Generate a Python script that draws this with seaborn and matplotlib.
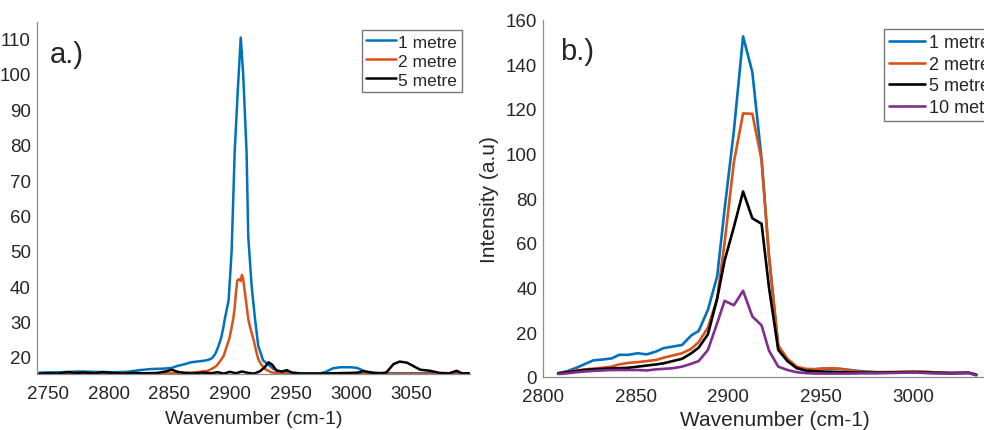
import seaborn as sns
import matplotlib.pyplot as plt
import pandas as pd

# ---- panel a.) : high resolution spectra ----
x_a_1m = [2743, 2760, 2775, 2790, 2805, 2815, 2826, 2835, 2845, 2852,
          2857, 2862, 2868, 2875, 2880, 2884, 2886, 2888, 2890, 2892.5,
          2894.5, 2896, 2899, 2901.5, 2904, 2906.5, 2909, 2911, 2913.8, 2915.2,
          2918, 2920.7, 2923.4, 2927.5, 2932, 2936, 2941, 2948, 2960, 2975,
          2979, 2985, 2991, 3000, 3005, 3011.5, 3020, 3040, 3060, 3080, 3097]
y_a_1m = [15.6, 15.7, 15.9, 15.8, 15.7, 15.8, 16.3, 16.6, 16.7, 16.9,
          17.5, 17.9, 18.5, 18.8, 19.0, 19.4, 19.9, 20.9, 22.5, 25.0,
          28, 31, 36, 50, 78, 95, 110.3, 100, 78, 54,
          40, 31, 23.2, 19.0, 17.8, 16.6, 16.0, 15.6, 15.4, 15.4,
          15.8, 16.8, 17.1, 17.1, 16.9, 15.9, 15.5, 15.4, 15.4, 15.4, 15.4]

x_a_2m = [2743, 2760, 2770, 2785, 2800, 2820, 2840, 2855, 2868, 2875,
          2882, 2886, 2889, 2892, 2895, 2897, 2899.5, 2901, 2902.8, 2904,
          2905, 2906.1, 2907.5, 2909, 2910, 2911, 2912.5, 2914, 2915.2, 2917,
          2919.4, 2921.5, 2923.4, 2926, 2929, 2934, 2940, 2960, 3000, 3050, 3097]
y_a_2m = [15.3, 15.3, 15.6, 15.3, 15.4, 15.3, 15.3, 15.4, 15.6, 15.8,
          16.1, 16.8, 17.5, 18.8, 20.4, 22.5, 25.1, 27.5, 30.7, 34,
          38, 41.6, 42, 41.5, 43.2, 42, 38, 34, 30.7, 28,
          25.1, 22, 19.4, 17.8, 16.6, 15.7, 15.3, 15.2, 15.2, 15.2, 15.2]

x_a_5m = [2743, 2750, 2758, 2766, 2773, 2780, 2788, 2795, 2803, 2812,
          2820, 2830, 2840, 2847, 2852, 2857, 2863, 2870, 2877, 2884,
          2890, 2895, 2900, 2905, 2910, 2915, 2920, 2925, 2929, 2932,
          2935, 2938.6, 2943, 2947, 2951, 2958, 2970, 2985, 3000, 3006,
          3010, 3018, 3025, 3029, 3032, 3035, 3040, 3046, 3051, 3057,
          3065, 3073, 3081, 3087, 3092, 3097]
y_a_5m = [15.3, 15.4, 15.3, 15.7, 15.5, 15.6, 15.4, 15.7, 15.5, 15.3,
          15.5, 15.4, 15.5, 15.9, 16.4, 15.8, 15.5, 15.3, 15.6, 15.4,
          15.7, 15.3, 15.8, 15.4, 15.9, 15.5, 15.3, 16.0, 17.2, 18.5,
          17.8, 16.1, 15.9, 16.3, 15.6, 15.3, 15.3, 15.4, 15.5, 15.6,
          16.0, 15.5, 15.4, 15.6, 16.8, 18.0, 18.7, 18.4, 17.5, 16.4,
          16.1, 15.5, 15.4, 16.1, 15.3, 15.4]

# ---- panel b.) : coarse spectra ----
x_b = [2808, 2813, 2818, 2822, 2827, 2832, 2837, 2841, 2846, 2851,
       2856, 2861, 2865, 2870, 2875, 2880, 2884,
       2889, 2894, 2898, 2903, 2908, 2913, 2918, 2922, 2927, 2932,
       2937, 2942, 2947, 2951, 2956, 2961, 2966, 2971,
       2980, 2990, 3000, 3010, 3020, 3030, 3034]
y_b_1m = [1.5, 2.5, 4.0, 5.5, 7.3, 7.7, 8.2, 9.8, 9.8, 10.5,
          10.0, 11.3, 12.8, 13.5, 14.2, 18.5, 20.5,
          30, 45, 75, 110, 152.5, 136.5, 97.5, 54, 13.5, 7,
          4, 3, 3.3, 3.6, 3.6, 3.4, 3.0, 2.5,
          2.0, 2.0, 2.3, 2.0, 1.7, 1.8, 0.8]
y_b_2m = [1.5, 2.2, 2.8, 3.2, 3.6, 4.0, 4.5, 5.5, 6.2, 6.5,
          7.0, 7.5, 8.5, 9.5, 10.5, 12.5, 15.5,
          22, 35, 60, 96, 118, 117.8, 97, 54, 14, 8,
          4.5, 3.5, 3.4, 3.6, 3.8, 3.5, 2.8, 2.2,
          2.0, 2.1, 2.4, 2.0, 1.6, 1.8, 0.8]
y_b_5m = [1.5, 2.0, 2.5, 3.0, 3.3, 3.5, 3.7, 3.8, 4.0, 4.5,
          5.0, 5.5, 6.0, 7.0, 8.0, 10.5, 13,
          19, 35, 52, 67, 83, 71, 68.5, 40, 12, 7,
          3.8, 2.7, 2.4, 2.3, 2.2, 2.0, 1.9, 1.8,
          1.8, 1.9, 2.0, 1.8, 1.6, 1.7, 0.9]
y_b_10m = [1.2, 1.5, 2.0, 2.3, 2.6, 2.8, 3.0, 3.0, 3.0, 3.0,
           2.8, 3.3, 3.5, 3.8, 4.5, 5.8, 7.0,
           12, 24, 34, 32, 38.5, 27, 23, 11.7, 4.5, 3.0,
           2.0, 1.6, 1.4, 1.4, 1.4, 1.4, 1.4, 1.5,
           1.5, 1.7, 1.9, 1.5, 1.4, 1.6, 0.6]

labels = ["1 metre", "2 metre", "5 metre", "10 metre"]
colors = ["#0072BD", "#D95319", "#000000", "#7E2F8E"]

sns.set_theme(style="white")
plt.rcParams['font.family'] = ['Liberation Sans', 'DejaVu Sans']
text_col = "#262626"
axis_col = "#8c8c8c"

fig = plt.figure(figsize=(9.84, 4.31), dpi=100)
ax1 = fig.add_axes([0.0376, 0.13, 0.44, 0.8167])
ax2 = fig.add_axes([0.5521, 0.1237, 0.471, 0.8283])

series_a = [(x_a_1m, y_a_1m), (x_a_2m, y_a_2m), (x_a_5m, y_a_5m)]
for (xs, ys), lab, col in zip(series_a, labels, colors):
    df = pd.DataFrame({"x": xs, "y": ys})
    sns.lineplot(data=df, x="x", y="y", ax=ax1, color=col, label=lab,
                 sort=False, estimator=None, linewidth=1.8)

for ys, lab, col in zip([y_b_1m, y_b_2m, y_b_5m, y_b_10m], labels, colors):
    df = pd.DataFrame({"x": x_b, "y": ys})
    sns.lineplot(data=df, x="x", y="y", ax=ax2, color=col, label=lab,
                 sort=False, estimator=None, linewidth=1.9)

ax1.set_xlim(2741, 3098)
ax1.set_ylim(15.2, 114.7)
ax1.set_xticks([2750, 2800, 2850, 2900, 2950, 3000, 3050])
ax1.set_yticks(range(20, 111, 10))

ax2.set_xlim(2800, 3050.5)
ax2.set_ylim(0, 160)
ax2.set_xticks([2800, 2850, 2900, 2950, 3000])
ax2.set_yticks(range(0, 161, 20))

for ax in (ax1, ax2):
    for s in ("top", "right"):
        ax.spines[s].set_visible(False)
    for s in ("left", "bottom"):
        ax.spines[s].set_color(axis_col)
        ax.spines[s].set_linewidth(0.9)
    ax.tick_params(direction="in", length=4, width=0.8, color=axis_col,
                   labelcolor=text_col, labelsize=13.5)
    ax.tick_params(axis="y", pad=4.5)
    ax.tick_params(axis="x", pad=8)

ax1.set_xlabel("Wavenumber (cm-1)", fontsize=14, color=text_col, labelpad=6)
ax1.set_ylabel("")
ax2.set_xlabel("Wavenumber (cm-1)", fontsize=15, color=text_col, labelpad=4)
ax2.set_ylabel("Intensity (a.u)", fontsize=15, color=text_col, labelpad=5)

ax1.text(0.03, 0.886, "a.)", transform=ax1.transAxes, fontsize=21, va="baseline")
ax2.text(0.036, 0.89, "b.)", transform=ax2.transAxes, fontsize=21, va="baseline")

ax1.legend(loc="upper left", bbox_to_anchor=(0.7506, 0.977), borderaxespad=0,
           fontsize=12.5, handlelength=1.7, handletextpad=0.15, fancybox=False,
           edgecolor="#777777", framealpha=1, borderpad=0.25, labelspacing=0.22)
ax2.legend(loc="upper left", bbox_to_anchor=(0.735, 0.974), borderaxespad=0,
           fontsize=13, handlelength=2.0, handletextpad=0.2, fancybox=False,
           edgecolor="#777777", framealpha=1, borderpad=0.3, labelspacing=0.25)

fig.savefig("out.png", dpi=100)
